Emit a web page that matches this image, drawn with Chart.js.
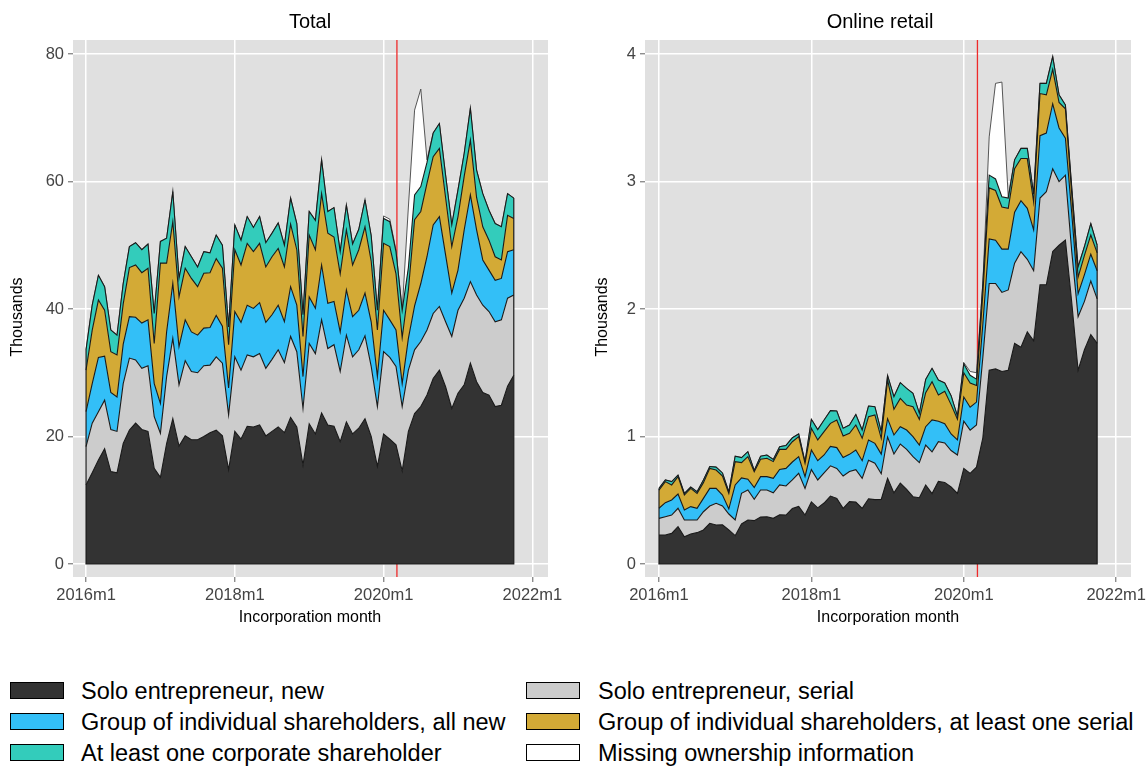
<!DOCTYPE html>
<html>
<head>
<meta charset="utf-8">
<script src="https://cdn.jsdelivr.net/npm/chart.js@4.4.1/dist/chart.umd.min.js"></script>
<style>
  html, body { margin: 0; padding: 0; background: #fff; }
  body { width: 1148px; height: 771px; overflow: hidden; position: relative;
         font-family: "Liberation Sans", Arial, Helvetica, sans-serif; }
  canvas.panel { position: absolute; top: 0; }
  .lg-swatch { position: absolute; width: 52px; height: 15px; border: 1.5px solid #000; }
  .lg-text { position: absolute; font-size: 23.5px; line-height: 28px; height: 28px; color: #000; white-space: nowrap; }
</style>
</head>
<body>
<canvas id="totalChart" class="panel" style="left:0px" width="574" height="640"></canvas>
<canvas id="retailChart" class="panel" style="left:574px" width="600" height="640"></canvas>
<div id="legend"></div>
<script>
// ---- categories: incorporation months 2016m1 .. 2021m10 ----
const monthLabels = [];
for (let yr = 2016; yr <= 2021; yr++) {
  for (let m = 1; m <= 12; m++) {
    if (yr === 2021 && m > 10) break;
    monthLabels.push(yr + 'm' + m);
  }
}
const monthIndex = monthLabels.map((_, i) => i);

const xTickLabels = ['2016m1', '2018m1', '2020m1', '2022m1'];
const totalTicks = [0, 20, 40, 60, 80];
const retailTicks = [0, 1, 2, 3, 4];
const lockdownMonth = 50.15; // months after 2016m1

const seriesNames = [
  'Solo entrepreneur, new',
  'Solo entrepreneur, serial',
  'Group of individual shareholders, all new',
  'Group of individual shareholders, at least one serial',
  'At least one corporate shareholder',
  'Missing ownership information'
];

// ---- Total (thousands of incorporations) ----
const totalSoloNew = [12.4,14.3,16.3,18.1,14.5,14.3,18.9,21.0,22.1,21.1,
  20.8,15.0,13.6,18.9,22.8,18.5,20.1,19.5,19.5,20.0,
  20.6,21.0,20.1,14.8,20.8,19.6,21.6,21.5,21.8,20.1,
  20.8,21.5,20.6,23.0,21.5,15.5,22.0,20.4,23.7,21.8,
  21.6,19.2,22.3,20.4,21.3,22.8,20.0,15.3,20.4,19.6,
  18.7,14.6,20.8,23.6,24.7,26.5,29.1,30.4,27.8,24.4,
  26.8,28.1,31.5,28.6,26.9,26.5,24.7,24.9,27.9,29.6];
const totalSoloSerial = [6.0,7.8,7.6,7.6,6.6,6.5,9.4,11.3,9.9,9.6,
  10.3,8.1,6.9,10.5,12.6,9.6,11.8,10.7,10.5,11.1,
  10.6,11.5,11.4,8.6,11.7,10.8,11.2,11.0,11.2,10.6,
  11.3,12.1,11.0,12.7,11.8,8.9,12.6,12.6,14.6,12.0,
  12.8,11.0,13.6,12.1,12.3,13.0,11.0,9.4,12.9,12.8,
  12.3,10.1,9.6,10.0,10.2,10.2,10.2,10.0,10.2,11.3,
  13.0,13.6,12.8,13.6,13.7,13.1,13.3,13.4,13.8,12.6];
const totalGroupNew = [5.5,6.2,8.5,6.9,5.8,5.4,6.2,6.5,6.7,7.1,
  7.2,5.2,4.7,7.0,8.6,6.0,6.4,6.2,5.9,5.9,
  5.9,6.5,5.8,4.2,7.1,7.5,7.8,7.6,8.0,7.2,
  7.0,7.0,6.4,7.8,7.3,5.0,7.3,7.1,8.6,7.1,
  6.8,6.2,7.1,6.3,6.2,6.7,7.0,4.7,6.5,5.9,
  5.7,3.6,5.0,6.9,9.1,11.5,13.9,14.1,10.5,6.8,
  6.3,10.7,13.6,10.2,7.1,6.5,6.5,6.5,7.3,7.1];
const totalGroupSerial = [6.5,8.4,9.0,7.2,6.4,6.6,6.3,7.7,8.2,7.9,
  8.1,6.3,22.0,10.8,9.7,7.8,8.1,8.4,7.6,8.6,
  8.6,8.9,9.1,6.8,9.7,9.0,9.7,8.9,9.3,8.7,
  9.1,8.9,8.6,9.8,8.7,6.3,9.7,9.2,11.2,11.0,
  10.1,9.1,9.4,8.1,9.5,10.4,9.5,7.3,10.5,11.5,
  8.8,7.2,7.6,13.5,11.3,11.5,10.7,10.7,9.0,7.3,
  8.4,8.4,8.6,5.1,5.2,4.7,3.7,2.9,5.7,4.9];
const totalCorporate = [3.2,3.9,3.9,3.7,3.4,3.1,3.2,3.3,3.5,3.6,
  3.8,4.7,3.4,3.9,4.7,2.9,3.4,3.4,3.1,3.4,
  3.1,3.7,3.6,2.8,3.9,3.9,4.2,3.8,4.2,3.8,
  3.7,4.0,3.4,4.1,4.1,3.4,3.7,4.6,5.3,3.4,
  4.6,3.5,3.9,3.3,3.2,4.2,4.0,3.1,3.9,3.9,
  3.5,4.3,3.5,3.9,3.9,3.3,3.7,3.9,3.5,3.4,
  4.2,3.6,5.0,4.3,5.2,4.7,5.2,5.2,3.4,3.2];
const totalMissing = [0,0,0,0,0,0,0,0,0,0,
  0,0,0,0,0,0,0,0,0,0,
  0,0,0,0,0,0,0,0,0,0,
  0,0,0,0,0,0,0,0,0,0,
  0,0,0,0,0,0,0,0,0.4,0.4,
  0.2,0,9.5,13.3,15.3,0.4,0,0,0,0,
  0,0,0,0,0,0,0,0,0,0];

// ---- Online retail (thousands of incorporations) ----
const retailSoloNew = [0.227,0.227,0.240,0.293,0.214,0.235,0.246,0.267,0.319,0.306,
  0.308,0.267,0.222,0.314,0.345,0.340,0.368,0.371,0.358,0.386,
  0.384,0.435,0.452,0.384,0.487,0.440,0.478,0.533,0.515,0.437,
  0.489,0.486,0.437,0.512,0.505,0.507,0.672,0.558,0.635,0.586,
  0.528,0.520,0.620,0.552,0.648,0.640,0.604,0.554,0.750,0.711,
  0.760,0.990,1.520,1.530,1.510,1.520,1.730,1.700,1.820,1.750,
  2.190,2.190,2.450,2.500,2.540,2.050,1.520,1.680,1.800,1.730];
const retailSoloSerial = [0.131,0.144,0.144,0.144,0.131,0.110,0.099,0.143,0.136,0.170,
  0.147,0.125,0.123,0.240,0.235,0.167,0.212,0.209,0.201,0.234,
  0.228,0.224,0.259,0.209,0.253,0.219,0.236,0.237,0.235,0.253,
  0.236,0.254,0.235,0.301,0.285,0.201,0.324,0.305,0.306,0.313,
  0.314,0.275,0.313,0.328,0.312,0.310,0.286,0.301,0.370,0.339,
  0.330,0.630,0.680,0.670,0.620,0.630,0.630,0.750,0.570,0.550,
  0.680,0.730,0.650,0.500,0.510,0.400,0.420,0.380,0.420,0.350];
const retailGroupNew = [0.079,0.110,0.118,0.112,0.079,0.105,0.092,0.105,0.138,0.117,
  0.086,0.040,0.275,0.121,0.085,0.093,0.105,0.105,0.113,0.122,
  0.138,0.141,0.131,0.092,0.154,0.151,0.141,0.152,0.163,0.145,
  0.135,0.154,0.138,0.160,0.156,0.154,0.144,0.149,0.136,0.152,
  0.157,0.138,0.144,0.250,0.160,0.150,0.130,0.118,0.190,0.180,
  0.180,0.260,0.350,0.340,0.340,0.320,0.400,0.400,0.400,0.320,
  0.490,0.460,0.510,0.420,0.290,0.300,0.180,0.210,0.210,0.220];
const retailGroupSerial = [0.143,0.165,0.118,0.136,0.117,0.143,0.117,0.123,0.157,0.144,
  0.149,0.122,0.183,0.120,0.177,0.124,0.136,0.144,0.131,0.157,
  0.149,0.159,0.157,0.105,0.170,0.163,0.183,0.181,0.216,0.169,
  0.165,0.196,0.176,0.183,0.223,0.124,0.303,0.201,0.222,0.196,
  0.235,0.202,0.267,0.300,0.205,0.255,0.230,0.162,0.190,0.190,
  0.130,0.240,0.400,0.390,0.330,0.320,0.340,0.330,0.390,0.220,
  0.330,0.300,0.270,0.200,0.230,0.150,0.130,0.150,0.150,0.140];
const retailCorporate = [0.013,0.013,0.026,0.013,0.013,0.011,0.013,0.021,0.015,0.023,
  0.024,0.012,0.042,0.040,0.039,0.010,0.024,0.026,0.017,0.021,
  0.031,0.031,0.021,0.010,0.071,0.081,0.091,0.100,0.071,0.060,
  0.065,0.082,0.065,0.083,0.065,0.052,0.035,0.099,0.123,0.131,
  0.105,0.047,0.104,0.105,0.118,0.065,0.070,0.025,0.070,0.060,
  0.050,0.080,0.100,0.090,0.080,0.080,0.070,0.080,0.080,0.060,
  0.080,0.090,0.100,0.060,0.030,0.050,0.080,0.070,0.090,0.060];
const retailMissing = [0,0,0,0,0,0,0,0,0,0,
  0,0,0,0,0,0,0,0,0,0,
  0,0,0,0,0,0,0,0,0,0,
  0,0,0,0,0,0,0,0,0,0,
  0,0,0,0,0,0,0,0,0.010,0.030,
  0.050,0,0.300,0.750,0.900,0.010,0,0,0,0,
  0,0,0,0,0,0,0,0,0,0];

// ---- styling ----
const FONT = '"Liberation Sans", Arial, Helvetica, sans-serif';
const seriesColors = ['#333333', '#cccccc', '#33bff7', '#d3aa36', '#33ccbb', '#ffffff'];
const plotBackground = '#e0e0e0';
const outlineColor = '#1a1a1a';

Chart.defaults.font.family = FONT;

function monthPosition(label) {
  const [yr, m] = label.split('m').map(Number);
  return (yr - 2016) * 12 + (m - 1);
}
const xTickPositions = xTickLabels.map(monthPosition);

// shaded plot region
const panelBackground = {
  id: 'panelBackground',
  beforeDraw(chart) {
    const { ctx, chartArea: a } = chart;
    ctx.save();
    ctx.fillStyle = plotBackground;
    ctx.fillRect(a.left, a.top, a.right - a.left, a.bottom - a.top);
    ctx.restore();
  }
};

// vertical reference line, drawn behind the areas
const referenceLine = {
  id: 'referenceLine',
  beforeDatasetsDraw(chart) {
    const { ctx, chartArea: a, scales: { x } } = chart;
    const px = x.getPixelForValue(lockdownMonth);
    ctx.save();
    ctx.strokeStyle = '#ee2a2a';
    ctx.lineWidth = 1.3;
    ctx.beginPath();
    ctx.moveTo(px, a.top);
    ctx.lineTo(px, a.bottom);
    ctx.stroke();
    ctx.restore();
  }
};

// closing outline of the stack: base line and the two end edges
const stackEdges = {
  id: 'stackEdges',
  afterDatasetsDraw(chart) {
    const { ctx, scales: { x, y } } = chart;
    const n = chart.data.labels.length;
    const stackTop = (i) => chart.data.datasets.reduce((s, d) => s + d.data[i], 0);
    const x0 = x.getPixelForValue(0), x1 = x.getPixelForValue(n - 1), y0 = y.getPixelForValue(0);
    ctx.save();
    ctx.strokeStyle = outlineColor;
    ctx.lineWidth = 1.2;
    ctx.beginPath();
    ctx.moveTo(x0, y.getPixelForValue(stackTop(0)));
    ctx.lineTo(x0, y0);
    ctx.lineTo(x1, y0);
    ctx.lineTo(x1, y.getPixelForValue(stackTop(n - 1)));
    ctx.stroke();
    ctx.restore();
  }
};

// panel title and axis titles
const panelText = {
  id: 'panelText',
  afterDraw(chart, args, opts) {
    const ctx = chart.ctx;
    ctx.save();
    ctx.fillStyle = '#000';
    ctx.textAlign = 'center';
    ctx.textBaseline = 'middle';
    ctx.font = '20px ' + FONT;
    ctx.fillText(opts.title, opts.titleX, 22);
    ctx.font = '16px ' + FONT;
    ctx.fillText(opts.xTitle, opts.xTitleX, 618);
    ctx.translate(opts.yTitleX, 317);
    ctx.rotate(-Math.PI / 2);
    ctx.fillText(opts.yTitle, 0, 0);
    ctx.restore();
  }
};

function buildPanel(cfg) {
  const datasets = cfg.values.map((vals, k) => ({
    label: seriesNames[k],
    data: vals,
    backgroundColor: seriesColors[k],
    borderColor: k === 5 ? '#444444' : outlineColor,
    borderWidth: k === 5 ? 0.9 : 1.1,
    fill: k === 0 ? 'origin' : '-1',
    pointRadius: 0,
    tension: 0
  }));

  new Chart(document.getElementById(cfg.canvas), {
    type: 'line',
    data: { labels: monthIndex, datasets },
    options: {
      responsive: false,
      animation: false,
      devicePixelRatio: 1,
      events: [],
      layout: { padding: { top: 40, left: 0, bottom: 0, right: cfg.padRight } },
      plugins: {
        legend: { display: false },
        tooltip: { enabled: false },
        panelText: { title: cfg.title, titleX: cfg.titleX, xTitle: 'Incorporation month',
                     xTitleX: cfg.xTitleX, yTitle: 'Thousands', yTitleX: cfg.yTitleX }
      },
      scales: {
        x: {
          type: 'linear',
          min: cfg.xMin, max: cfg.xMax,
          afterBuildTicks: (s) => { s.ticks = xTickPositions.map(v => ({ value: v })); },
          afterFit: (s) => { s.height = 63; },
          ticks: {
            autoSkip: false, maxRotation: 0, minRotation: 0, padding: 4,
            color: '#444444', font: { size: 16.5 },
            callback: (v) => xTickLabels[xTickPositions.indexOf(v)]
          },
          grid: { color: '#ffffff', lineWidth: 1.5, tickColor: '#7a7a7a', tickLength: 5, tickWidth: 1.2 },
          border: { display: false }
        },
        y: {
          stacked: true,
          min: cfg.yMin, max: cfg.yMax,
          afterBuildTicks: (s) => { s.ticks = cfg.yTicks.map(v => ({ value: v })); },
          afterFit: (s) => { s.width = cfg.yAxisWidth; },
          ticks: { padding: 4, color: '#444444', font: { size: 16.5 }, callback: (v) => String(v) },
          grid: { color: '#ffffff', lineWidth: 1.5, tickColor: '#7a7a7a', tickLength: 5, tickWidth: 1.2 },
          border: { display: false }
        }
      }
    },
    plugins: [panelBackground, referenceLine, stackEdges, panelText]
  });
}

buildPanel({
  canvas: 'totalChart', title: 'Total',
  values: [totalSoloNew, totalSoloSerial, totalGroupNew, totalGroupSerial, totalCorporate, totalMissing],
  yTicks: totalTicks, yMin: -2.04, yMax: 82.2, xMin: -2.1, xMax: 74.52,
  yAxisWidth: 73, padRight: 26, titleX: 310, xTitleX: 310, yTitleX: 18
});

buildPanel({
  canvas: 'retailChart', title: 'Online retail',
  values: [retailSoloNew, retailSoloSerial, retailGroupNew, retailGroupSerial, retailCorporate, retailMissing],
  yTicks: retailTicks, yMin: -0.102, yMax: 4.11, xMin: -2.2, xMax: 74.33,
  yAxisWidth: 71, padRight: 43, titleX: 306, xTitleX: 314, yTitleX: 29
});

// ---- legend ----
const legendLayout = [
  { col: 0, row: 0 }, { col: 1, row: 0 },
  { col: 0, row: 1 }, { col: 1, row: 1 },
  { col: 0, row: 2 }, { col: 1, row: 2 }
];
const legendCols = [{ swatch: 10, text: 81 }, { swatch: 526, text: 598 }];
const legendRows = [691, 722, 753];
const legendEl = document.getElementById('legend');
seriesNames.forEach((name, k) => {
  const pos = legendLayout[k];
  const cy = legendRows[pos.row];
  const sw = document.createElement('div');
  sw.className = 'lg-swatch';
  sw.style.left = legendCols[pos.col].swatch + 'px';
  sw.style.top = (cy - 9) + 'px';
  sw.style.background = seriesColors[k];
  legendEl.appendChild(sw);
  const tx = document.createElement('div');
  tx.className = 'lg-text';
  tx.style.left = legendCols[pos.col].text + 'px';
  tx.style.top = (cy - 14) + 'px';
  tx.textContent = name;
  legendEl.appendChild(tx);
});
</script>
</body>
</html>
